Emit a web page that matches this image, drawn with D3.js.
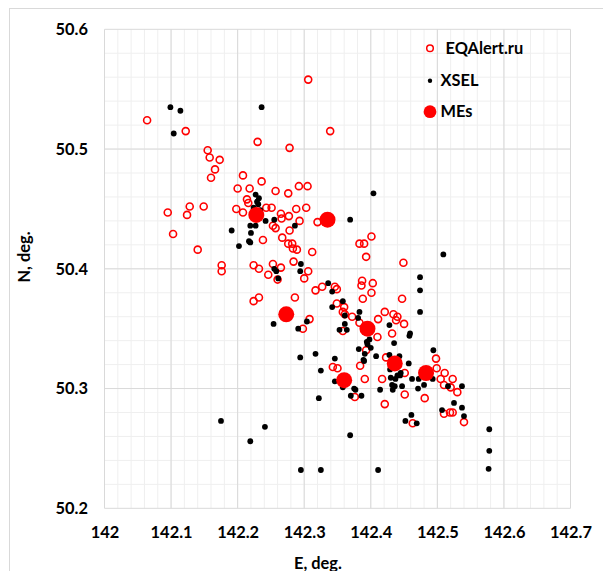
<!DOCTYPE html>
<html>
<head>
<meta charset="utf-8">
<script src="https://cdn.jsdelivr.net/npm/d3@7"></script>
<style>
  html, body { margin: 0; padding: 0; background: #fff; }
  svg { display: block; }
  text { font-family: Lato, "Open Sans", sans-serif; font-weight: bold; fill: #000; }
</style>
</head>
<body>
<svg id="chart" width="603" height="571"></svg>
<script>
// Tick labels of the two axes
const xTicks = [142, 142.1, 142.2, 142.3, 142.4, 142.5, 142.6, 142.7];
const yTicks = [50.2, 50.3, 50.4, 50.5, 50.6];

// Epicenters reported by EQAlert.ru  [E, N]
const eqAlert = [
  [142.064,50.524],[142.306,50.558],[142.122,50.515],[142.339,50.515],[142.230,50.506],
  [142.278,50.501],[142.155,50.499],[142.158,50.493],[142.173,50.491],[142.166,50.483],
  [142.160,50.476],[142.208,50.478],[142.236,50.473],[142.200,50.467],[142.218,50.467],
  [142.257,50.465],[142.276,50.463],[142.292,50.469],[142.305,50.469],[142.095,50.447],
  [142.128,50.452],[142.124,50.445],[142.149,50.452],[142.103,50.429],[142.140,50.416],
  [142.176,50.403],[142.176,50.398],[142.198,50.450],[142.208,50.447],[142.216,50.455],
  [142.214,50.458],[142.243,50.451],[142.251,50.451],[142.265,50.446],[142.266,50.442],
  [142.277,50.444],[142.288,50.450],[142.293,50.440],[142.303,50.451],[142.320,50.439],
  [142.253,50.436],[142.257,50.434],[142.278,50.432],[142.238,50.424],[142.267,50.426],
  [142.276,50.421],[142.282,50.421],[142.283,50.417],[142.289,50.416],[142.312,50.414],
  [142.284,50.406],[142.253,50.404],[142.265,50.401],[142.224,50.403],[142.232,50.400],
  [142.246,50.395],[142.260,50.391],[142.306,50.398],[142.300,50.392],[142.224,50.373],
  [142.232,50.376],[142.286,50.376],[142.317,50.382],[142.327,50.385],[142.346,50.385],
  [142.349,50.383],[142.349,50.371],[142.360,50.368],[142.358,50.364],[142.361,50.362],
  [142.372,50.360],[142.308,50.358],[142.298,50.350],[142.358,50.348],[142.383,50.421],
  [142.390,50.421],[142.401,50.427],[142.393,50.410],[142.387,50.390],[142.386,50.386],
  [142.403,50.388],[142.401,50.380],[142.388,50.375],[142.449,50.405],[142.447,50.375],
  [142.421,50.364],[142.411,50.358],[142.434,50.362],[142.440,50.360],[142.438,50.357],
  [142.450,50.354],[142.383,50.355],[142.432,50.346],[142.410,50.343],[142.393,50.332],
  [142.384,50.319],[142.391,50.308],[142.343,50.318],[142.350,50.317],[142.423,50.326],
  [142.417,50.308],[142.451,50.313],[142.451,50.295],[142.421,50.287],[142.376,50.293],
  [142.463,50.271],[142.481,50.292],[142.498,50.325],[142.499,50.317],[142.511,50.313],
  [142.505,50.308],[142.523,50.308],[142.510,50.303],[142.520,50.301],[142.530,50.297],
  [142.510,50.279],[142.519,50.280],[142.523,50.280],[142.540,50.272]
];

// Epicenters from the XSEL catalogue  [E, N]
const xsel = [
  [142.099,50.535],[142.114,50.532],[142.104,50.513],[142.236,50.535],[142.404,50.463],
  [142.509,50.412],[142.369,50.441],[142.227,50.462],[142.232,50.459],[142.229,50.456],
  [142.231,50.454],[142.224,50.451],[142.234,50.449],[142.242,50.440],[142.255,50.441],
  [142.227,50.436],[142.219,50.436],[142.220,50.430],[142.217,50.423],[142.219,50.422],
  [142.191,50.432],[142.202,50.419],[142.286,50.436],[142.295,50.404],[142.294,50.398],
  [142.255,50.400],[142.258,50.398],[142.261,50.392],[142.336,50.388],[142.342,50.381],
  [142.358,50.373],[142.342,50.368],[142.383,50.364],[142.361,50.361],[142.381,50.359],
  [142.361,50.354],[142.304,50.356],[142.254,50.354],[142.291,50.350],[142.353,50.349],
  [142.364,50.349],[142.428,50.353],[142.459,50.346],[142.458,50.344],[142.435,50.338],
  [142.394,50.339],[142.398,50.341],[142.395,50.337],[142.400,50.334],[142.382,50.333],
  [142.408,50.327],[142.391,50.329],[142.389,50.324],[142.390,50.323],[142.494,50.332],
  [142.428,50.328],[142.443,50.327],[142.457,50.321],[142.474,50.393],[142.474,50.382],
  [142.474,50.364],[142.317,50.329],[142.346,50.325],[142.325,50.315],[142.294,50.326],
  [142.430,50.309],[142.437,50.308],[142.444,50.311],[142.432,50.303],[142.436,50.302],
  [142.433,50.299],[142.447,50.302],[142.414,50.299],[142.429,50.316],[142.445,50.313],
  [142.440,50.311],[142.471,50.300],[142.462,50.308],[142.472,50.308],[142.480,50.303],
  [142.493,50.308],[142.537,50.302],[142.516,50.302],[142.525,50.288],[142.537,50.284],
  [142.540,50.277],[142.507,50.282],[142.461,50.278],[142.452,50.273],[142.469,50.271],
  [142.578,50.266],[142.578,50.248],[142.577,50.233],[142.346,50.306],[142.358,50.301],
  [142.375,50.300],[142.377,50.299],[142.370,50.294],[142.386,50.294],[142.322,50.292],
  [142.369,50.261],[142.175,50.273],[142.219,50.256],[142.241,50.268],[142.295,50.232],
  [142.325,50.232],[142.411,50.232]
];

// Main events  [E, N]
const mes = [
  [142.228,50.445],[142.335,50.441],[142.273,50.362],[142.395,50.350],
  [142.436,50.321],[142.360,50.307],[142.483,50.313]
];

const svg = d3.select("#chart");
const plotLeft = 104.5, plotRight = 570.5, plotTop = 29.3, plotBottom = 508.3;

const x = d3.scaleLinear().domain([142, 142.7]).range([plotLeft, plotRight]);
const y = d3.scaleLinear().domain([50.2, 50.6]).range([plotBottom, plotTop]);

// Outer chart-area frame
svg.append("rect")
  .attr("x", 9.5).attr("y", 8.5).attr("width", 700).attr("height", 700)
  .attr("fill", "none").attr("stroke", "#d9d9d9").attr("stroke-width", 1);

// Minor gridlines every 0.02 degree
const xMinor = d3.range(1, 35).map(i => 142 + i * 0.02);
const yMinor = d3.range(1, 20).map(i => 50.2 + i * 0.02);
const grid = svg.append("g");
grid.selectAll(".vmin").data(xMinor).join("line")
  .attr("x1", d => x(d)).attr("x2", d => x(d)).attr("y1", plotTop).attr("y2", plotBottom)
  .attr("stroke", "#efefef").attr("stroke-width", 1);
grid.selectAll(".hmin").data(yMinor).join("line")
  .attr("y1", d => y(d)).attr("y2", d => y(d)).attr("x1", plotLeft).attr("x2", plotRight)
  .attr("stroke", "#efefef").attr("stroke-width", 1);

// Major gridlines
grid.selectAll(".vmaj").data(xTicks).join("line")
  .attr("x1", d => x(d)).attr("x2", d => x(d)).attr("y1", plotTop).attr("y2", plotBottom)
  .attr("stroke", "#d9d9d9").attr("stroke-width", 1);
grid.selectAll(".hmaj").data(yTicks).join("line")
  .attr("y1", d => y(d)).attr("y2", d => y(d)).attr("x1", plotLeft).attr("x2", plotRight)
  .attr("stroke", "#d9d9d9").attr("stroke-width", 1);

// Axes (labels only)
const fmt = d => String(+d.toFixed(1));
const xAxis = svg.append("g")
  .attr("transform", `translate(0,${plotBottom})`)
  .call(d3.axisBottom(x).tickValues(xTicks).tickSize(0).tickPadding(18).tickFormat(fmt));
const yAxis = svg.append("g")
  .attr("transform", `translate(${plotLeft},0)`)
  .call(d3.axisLeft(y).tickValues(yTicks).tickSize(0).tickPadding(16.5).tickFormat(fmt));
[xAxis, yAxis].forEach(g => {
  g.select(".domain").remove();
  g.selectAll("text").attr("font-family", "Lato").attr("font-weight", "bold")
    .attr("font-size", 16.4).attr("fill", "#000");
});

// Axis titles
svg.append("text").attr("x", 318).attr("y", 569)
  .attr("text-anchor", "middle").attr("font-size", 16.4).text("E, deg.");
svg.append("text").attr("transform", "translate(30,257) rotate(-90)")
  .attr("text-anchor", "middle").attr("font-size", 16.4).text("N, deg.");

// Series
const plot = svg.append("g");
plot.selectAll(".eq").data(eqAlert).join("circle")
  .attr("cx", d => x(d[0])).attr("cy", d => y(d[1])).attr("r", 3.5)
  .attr("fill", "none").attr("stroke", "#ff0000").attr("stroke-width", 1.6);
plot.selectAll(".xs").data(xsel).join("circle")
  .attr("cx", d => x(d[0])).attr("cy", d => y(d[1])).attr("r", 2.9)
  .attr("fill", "#000");
plot.selectAll(".me").data(mes).join("circle")
  .attr("cx", d => x(d[0])).attr("cy", d => y(d[1])).attr("r", 8)
  .attr("fill", "#ff0000");

// Legend
const legend = svg.append("g");
legend.append("circle").attr("cx", 430).attr("cy", 48.3).attr("r", 3.3)
  .attr("fill", "none").attr("stroke", "#ff0000").attr("stroke-width", 1.5);
legend.append("text").attr("x", 445.5).attr("y", 54).attr("font-size", 16.4).text("EQAlert.ru");
legend.append("circle").attr("cx", 430).attr("cy", 80.7).attr("r", 2.2).attr("fill", "#000");
legend.append("text").attr("x", 440.5).attr("y", 85.8).attr("font-size", 16.4).text("XSEL");
legend.append("circle").attr("cx", 430).attr("cy", 111.7).attr("r", 6.4).attr("fill", "#ff0000");
legend.append("text").attr("x", 440.5).attr("y", 117.3).attr("font-size", 16.4).text("MEs");
</script>
</body>
</html>
